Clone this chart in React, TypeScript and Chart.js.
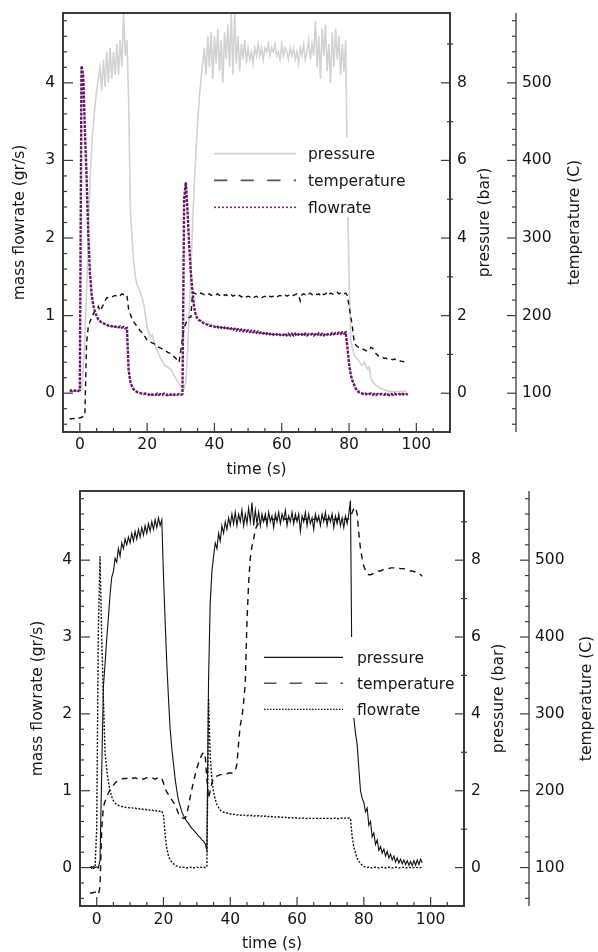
import React, { useEffect, useRef } from "react";
import { Chart, registerables } from "chart.js";
Chart.register(...registerables);

// ---------- data ----------
const time: number[] = [
  -3, -2.5, -2, -1.5, -1, -0.5,
  0, 0.5, 1, 1.5, 2, 2.5, 3, 3.5, 4, 4.5, 5, 5.5, 6, 6.5, 7, 7.5, 8, 8.5, 9, 9.5,
  10, 10.5, 11, 11.5, 12, 12.5, 13, 13.5, 14, 14.5, 15, 15.5, 16, 16.5, 17, 17.5, 18, 18.5, 19, 19.5,
  20, 20.5, 21, 21.5, 22, 22.5, 23, 23.5, 24, 24.5, 25, 25.5, 26, 26.5, 27, 27.5, 28, 28.5, 29, 29.5,
  30, 30.5, 31, 31.5, 32, 32.5, 33, 33.5, 34, 34.5, 35, 35.5, 36, 36.5, 37, 37.5, 38, 38.5, 39, 39.5,
  40, 40.5, 41, 41.5, 42, 42.5, 43, 43.5, 44, 44.5, 45, 45.5, 46, 46.5, 47, 47.5, 48, 48.5, 49, 49.5,
  50, 50.5, 51, 51.5, 52, 52.5, 53, 53.5, 54, 54.5, 55, 55.5, 56, 56.5, 57, 57.5, 58, 58.5, 59, 59.5,
  60, 60.5, 61, 61.5, 62, 62.5, 63, 63.5, 64, 64.5, 65, 65.5, 66, 66.5, 67, 67.5, 68, 68.5, 69, 69.5,
  70, 70.5, 71, 71.5, 72, 72.5, 73, 73.5, 74, 74.5, 75, 75.5, 76, 76.5, 77, 77.5, 78, 78.5, 79, 79.5,
  80, 80.5, 81, 81.5, 82, 82.5, 83, 83.5, 84, 84.5, 85, 85.5, 86, 86.5, 87, 87.5, 88, 88.5, 89, 89.5,
  90, 90.5, 91, 91.5, 92, 92.5, 93, 93.5, 94, 94.5, 95, 95.5, 96, 96.5, 97, 97.5,
];

// top panel
const topPressure: (number | null)[] = [
  0.05, 0.04, 0.05, 0.04, 0.05, 0.04,
  0.05, 0.1, 0.6, 1.4, 2.6, 4.0, 5.4, 6.3, 6.9, 7.4, 7.8, 8.1, 8.4, 7.8, 8.6, 7.9, 8.8, 8.0, 8.9, 8.1,
  8.8, 8.2, 9.0, 8.2, 9.1, 8.4, 9.8, 8.7, 9.1, 7.6, 4.8, 4.0, 3.4, 3.0, 2.8, 2.7, 2.6, 2.45, 2.3, 2.0,
  1.7, 1.55, 1.45, 1.5, 1.35, 1.2, 1.1, 1.0, 0.9, 0.82, 0.75, 0.7, 0.68, 0.65, 0.62, 0.55, 0.45, 0.38, 0.3, 0.24,
  0.18, 0.14, 0.12, 0.3, 1.0, 2.0, 3.2, 4.3, 5.4, 6.2, 7.0, 7.6, 8.1, 8.5, 8.9, 8.2, 9.2, 8.4, 9.3, 8.1,
  9.2, 8.5, 9.4, 8.3, 9.1, 8.0, 9.3, 8.6, 9.5, 8.4, 9.8, 8.2, 9.8, 8.5, 9.2, 8.3, 9.0, 8.6, 9.1, 8.5,
  8.9, 8.6, 8.8, 8.5, 8.9, 8.7, 9.0, 8.7, 8.9, 8.6, 8.9, 8.8, 9.0, 8.7, 8.9, 8.8, 9.0, 8.7, 8.8, 8.6,
  9.0, 8.7, 8.9, 8.8, 8.6, 8.9, 8.7, 8.9, 8.6, 8.8, 8.5, 8.9, 8.7, 9.0, 8.6, 8.8, 9.1, 8.6, 9.0, 8.7,
  9.6, 8.4, 9.2, 8.1, 9.4, 8.7, 9.5, 8.3, 9.0, 8.0, 9.3, 8.4, 9.4, 8.6, 9.2, 8.2, 9.0, 8.3, 9.1, 5.5,
  3.0, 1.4, 1.15, 1.0, 0.92, 0.88, 0.82, 0.75, 0.72, 0.8, 0.7, 0.62, 0.68, 0.4, 0.3, 0.25, 0.2, 0.18, 0.14, 0.12,
  0.1, 0.08, 0.07, 0.06, 0.05, 0.05, 0.04, 0.05, 0.04, 0.04, 0.05, 0.04, 0.04, 0.05, 0.04, null,
];
const topTemperature: (number | null)[] = [
  67, 67, 67.5, 67, 68, 68,
  68, 69, 70, 72, 165, 185, 192, 198, 202, 206, 208, 212, 206, 210, 214, 219, 223, 223, 224, 224,
  225, 226, 225, 227, 226, 228, 227, 228, 226, 208, 202, 196, 192, 189, 186, 183, 180, 178, 175, 172,
  168, 167, 166, 165, 164, 162, 160, 159, 158, 157, 156, 155, 153, 152, 151, 150, 147, 145, 142, 140,
  155, 170, 185, 190, 195, 198, 198, 230, 229, 228, 229, 228, 229, 228, 227, 228, 227, 228, 226, 227,
  228, 227, 228, 226, 227, 228, 226, 227, 225, 226, 227, 225, 226, 227, 225, 226, 224, 225, 226, 224,
  225, 224, 225, 223, 224, 225, 223, 224, 223, 224, 225, 223, 224, 225, 224, 225, 226, 224, 225, 226,
  225, 226, 227, 225, 226, 227, 228, 226, 227, 228, 226, 219, 227, 228, 227, 229, 228, 229, 227, 228,
  229, 227, 228, 226, 229, 227, 228, 230, 227, 229, 228, 227, 229, 230, 228, 229, 227, 228, 229, 226,
  212, 200, 185, 167, 162, 160, 159, 158, 157, 156, 155, 154, 156, 159, 158, 155, 151, 149, 147, 146,
  146, 145, 145, 144, 144, 144, 143, 144, 143, 142, 142, 141, 141, 140, 139, null,
];
const topFlowrate: (number | null)[] = [
  0.04, 0.03, 0.04, 0.03, 0.04, 0.03,
  0.04, 4.22, 4.1, 3.4, 2.8, 2.07, 1.55, 1.28, 1.13, 1.05, 0.99, 0.95, 0.93, 0.91, 0.9, 0.89, 0.885, 0.87, 0.875, 0.86,
  0.87, 0.855, 0.865, 0.85, 0.86, 0.845, 0.855, 0.835, 0.84, 0.3, 0.15, 0.09, 0.05, 0.03, 0.015, 0.005, 0.0, -0.005, -0.01, -0.005,
  -0.01, -0.02, -0.005, -0.02, -0.01, -0.02, -0.005, -0.02, -0.01, -0.02, -0.005, -0.015, -0.025, -0.01, -0.02, -0.005, -0.02, -0.01, -0.02, -0.01,
  -0.02, -0.01, 2.5, 2.72, 2.35, 1.9, 1.55, 1.3, 1.1, 1.0, 0.96, 0.94, 0.93, 0.91, 0.9, 0.89, 0.885, 0.87, 0.87, 0.86,
  0.86, 0.84, 0.855, 0.835, 0.85, 0.83, 0.845, 0.825, 0.84, 0.82, 0.835, 0.815, 0.83, 0.81, 0.825, 0.805, 0.82, 0.8, 0.815, 0.795,
  0.81, 0.79, 0.805, 0.785, 0.8, 0.78, 0.795, 0.775, 0.79, 0.77, 0.785, 0.765, 0.78, 0.76, 0.775, 0.755, 0.77, 0.755, 0.77, 0.75,
  0.765, 0.75, 0.77, 0.745, 0.765, 0.745, 0.765, 0.745, 0.765, 0.74, 0.76, 0.745, 0.76, 0.74, 0.765, 0.745, 0.76, 0.75, 0.765, 0.745,
  0.76, 0.745, 0.77, 0.75, 0.765, 0.745, 0.77, 0.755, 0.765, 0.755, 0.775, 0.76, 0.775, 0.765, 0.78, 0.765, 0.785, 0.77, 0.785, 0.6,
  0.38, 0.24, 0.16, 0.11, 0.06, 0.03, 0.01, 0.0, -0.005, -0.015, -0.005, -0.02, -0.01, -0.005, -0.02, -0.01, -0.025, -0.01, -0.02, -0.01,
  -0.01, -0.02, -0.005, -0.015, -0.025, -0.01, -0.02, -0.005, -0.015, -0.02, -0.01, -0.025, -0.01, -0.02, -0.01, -0.02,
];

// bottom panel
const bottomPressure: (number | null)[] = [
  null, null, 0.02, -0.02, 0.03, 0.0,
  0.02, -0.01, 0.2, 2.5, 4.7, 5.3, 5.95, 6.5, 7.1, 7.55, 7.7, 8.05, 7.95, 8.3, 8.1, 8.45, 8.3, 8.55, 8.4, 8.6,
  8.45, 8.7, 8.5, 8.75, 8.55, 8.8, 8.6, 8.85, 8.65, 8.9, 8.7, 8.95, 8.75, 9.0, 8.8, 9.05, 8.85, 9.1, 8.9, 9.05,
  7.6, 6.4, 5.3, 4.4, 3.6, 3.1, 2.7, 2.3, 2.0, 1.75, 1.6, 1.45, 1.35, 1.27, 1.2, 1.15, 1.08, 1.02, 0.98, 0.92,
  0.88, 0.82, 0.78, 0.72, 0.68, 0.62, 0.45, 4.9, 6.9, 7.7, 8.1, 8.45, 8.3, 8.7, 8.5, 8.9, 8.7, 9.0, 8.8, 9.1,
  8.9, 9.2, 8.95, 9.25, 8.9, 9.2, 9.0, 9.3, 8.9, 9.2, 8.95, 9.35, 9.0, 9.5, 8.9, 9.3, 8.95, 9.25, 8.9, 9.2,
  9.0, 9.2, 8.9, 9.25, 9.0, 9.15, 8.85, 9.2, 9.0, 9.25, 8.95, 9.2, 9.05, 9.3, 8.9, 9.15, 9.0, 9.25, 8.95, 9.2,
  9.0, 9.2, 8.75, 9.15, 9.0, 9.25, 8.9, 9.2, 8.95, 9.1, 8.8, 9.2, 9.0, 9.15, 8.9, 9.2, 9.0, 9.25, 8.9, 9.15,
  9.0, 9.2, 8.85, 9.15, 8.95, 9.2, 8.9, 9.1, 8.85, 9.15, 8.95, 9.2, 9.55, 4.4, 3.9, 3.5, 3.2, 2.6, 2.0, 1.8,
  1.7, 1.45, 1.55, 1.1, 1.2, 0.8, 0.9, 0.6, 0.72, 0.45, 0.55, 0.38, 0.48, 0.3, 0.42, 0.25, 0.35, 0.2, 0.3, 0.15,
  0.25, 0.12, 0.22, 0.1, 0.2, 0.08, 0.18, 0.06, 0.16, 0.05, 0.18, 0.06, 0.2, 0.08, 0.22, 0.12,
];
const bottomTemperature: (number | null)[] = [
  null, null, 67, 67, 67.5, 68,
  68, 65, 75, 150, 179, 186, 192, 197, 201, 204, 207, 210, 212, 213, 214, 215, 216, 216, 216, 217,
  216, 217, 216, 217, 216, 216, 217, 216, 215, 216, 217, 216, 216, 217, 216, 215, 216, 217, 216, 216,
  210, 203, 198, 195, 191, 188, 185, 181, 176, 170, 166, 165, 164, 164, 170, 180, 192, 202, 212, 221,
  229, 236, 242, 247, 250, 245, 215, 190, 200, 210, 216, 218, 219, 220, 221, 221, 222, 222, 222, 223,
  223, 223, 224, 226, 235, 262, 285, 296, 315, 340, 420, 470, 503, 518, 527, 540, 545, 548, 550, 552,
  553, 553, 554, 553, 554, 553, 553, 554, 553, 554, 553, 553, 554, 553, 554, 553, 553, 554, 553, 554,
  553, 554, 553, 553, 554, 553, 554, 553, 553, 554, 553, 554, 553, 553, 554, 553, 554, 553, 553, 554,
  553, 554, 553, 553, 554, 553, 553, 554, 553, 554, 553, 554, 556, 562, 567, 569, 560, 535, 515, 502,
  492, 487, 483, 481, 481, 482, 483, 484, 485, 486, 486, 487, 488, 488, 489, 489, 490, 490, 490, 490,
  490, 490, 489, 489, 489, 488, 488, 487, 486, 486, 485, 485, 484, 483, 481, 479,
];
const bottomFlowrate: (number | null)[] = [
  null, null, 0.0, 0.01, -0.01, 0.0,
  0.5, 3.1, 4.05, 3.0, 2.2, 1.5, 1.28, 1.12, 1.0, 0.92, 0.87, 0.84, 0.82, 0.81, 0.8, 0.795, 0.79, 0.785, 0.78, 0.78,
  0.775, 0.78, 0.77, 0.775, 0.765, 0.77, 0.76, 0.765, 0.755, 0.76, 0.75, 0.755, 0.745, 0.75, 0.74, 0.745, 0.735, 0.74, 0.73, 0.735,
  0.68, 0.42, 0.25, 0.15, 0.1, 0.07, 0.05, 0.03, 0.02, 0.01, 0.005, 0.0, 0.005, 0.0, -0.005, 0.0, 0.005, 0.0, -0.005, 0.0,
  0.005, 0.0, 0.005, 0.0, 0.005, 0.0, 0.01, 2.2, 1.45, 1.15, 0.98, 0.89, 0.82, 0.78, 0.75, 0.73, 0.72, 0.71, 0.71, 0.7,
  0.7, 0.69, 0.695, 0.69, 0.685, 0.69, 0.68, 0.685, 0.68, 0.685, 0.675, 0.68, 0.675, 0.68, 0.67, 0.675, 0.67, 0.675, 0.665, 0.67,
  0.665, 0.67, 0.66, 0.665, 0.66, 0.665, 0.655, 0.66, 0.655, 0.66, 0.65, 0.655, 0.65, 0.655, 0.645, 0.65, 0.645, 0.65, 0.645, 0.65,
  0.645, 0.64, 0.645, 0.64, 0.645, 0.635, 0.64, 0.645, 0.64, 0.635, 0.64, 0.645, 0.64, 0.635, 0.64, 0.645, 0.64, 0.635, 0.64, 0.645,
  0.64, 0.635, 0.64, 0.645, 0.64, 0.635, 0.64, 0.645, 0.64, 0.645, 0.64, 0.645, 0.64, 0.4, 0.27, 0.19, 0.12, 0.08, 0.06, 0.03,
  0.015, 0.005, 0.0, 0.005, 0.0, -0.005, 0.0, 0.005, 0.0, -0.005, 0.0, 0.005, 0.0, -0.005, 0.0, 0.005, 0.0, -0.005, 0.0, 0.005,
  0.0, -0.005, 0.0, 0.005, 0.0, -0.005, 0.0, 0.005, 0.0, -0.005, 0.0, 0.005, 0.0, -0.005, 0.0, 0.005,
];

// ticks
const xTicks = [0, 20, 40, 60, 80, 100];
const xMinorTicks = [5, 10, 15, 25, 30, 35, 45, 50, 55, 65, 70, 75, 85, 90, 95, 105];
const flowTicks = [0, 1, 2, 3, 4];
const flowMinorTicks = [-0.4, -0.2, 0.2, 0.4, 0.6, 0.8, 1.2, 1.4, 1.6, 1.8, 2.2, 2.4, 2.6, 2.8, 3.2, 3.4, 3.6, 3.8, 4.2, 4.4, 4.6, 4.8];
const pressureTicks = [0, 2, 4, 6, 8];
const pressureMinorTicks = [1, 3, 5, 7, 9];
const tempTicks = [100, 200, 300, 400, 500];
const tempMinorTicks = [60, 80, 120, 140, 160, 180, 220, 240, 260, 280, 320, 340, 360, 380, 420, 440, 460, 480, 520, 540, 560, 580];

const seriesLabels = ["pressure", "temperature", "flowrate"];
const xTitle = "time (s)";
const flowTitle = "mass flowrate (gr/s)";
const pressureTitle = "pressure (bar)";
const tempTitle = "temperature (C)";

// ---------- styling ----------
const FAMILY = "'DejaVu Sans', 'Liberation Sans', sans-serif";
const FS = 15.5;
const TEXT = "#151515";
const AXIS = "#3a3a3a";

type LegendItem = { color: string; width: number; dash: number[] };
type PanelCfg = {
  top: number;
  height: number;
  padTop: number;
  leftW: number;
  xH: number;
  presW: number;
  tempW: number;
  xPad: number;
  leftTitleX: number;
  presTitleX: number;
  tempTitleX: number;
  xTitleY: number;
  pressure: (number | null)[];
  temperature: (number | null)[];
  flowrate: (number | null)[];
  pStyle: LegendItem;
  tStyle: LegendItem;
  fStyle: LegendItem;
  legend: { box: number[]; rows: number[]; x0: number; x1: number; textX: number; items: LegendItem[] };
};

const topCfg: PanelCfg = {
  top: 0, height: 480, padTop: 13, leftW: 63, xH: 48, presW: 66, tempW: 82, xPad: 4,
  leftTitleX: 20, presTitleX: 485, tempTitleX: 574.5, xTitleY: 470,
  pressure: topPressure, temperature: topTemperature, flowrate: topFlowrate,
  pStyle: { color: "#d2d2d2", width: 1.6, dash: [] },
  tStyle: { color: "#111111", width: 1.4, dash: [5, 4] },
  fStyle: { color: "#661866", width: 2.4, dash: [3, 1.2] },
  legend: {
    box: [205, 137, 173, 80], rows: [153.7, 180.3, 207.3], x0: 214, x1: 296, textX: 308,
    items: [
      { color: "#cfcfcf", width: 1.8, dash: [] },
      { color: "#555555", width: 1.8, dash: [13.3, 13.3] },
      { color: "#7a2a7a", width: 1.6, dash: [2, 2] },
    ],
  },
};

const bottomCfg: PanelCfg = {
  top: 480, height: 472, padTop: 11, leftW: 80, xH: 46, presW: 65, tempW: 69, xPad: 5,
  leftTitleX: 38.3, presTitleX: 499.2, tempTitleX: 587.3, xTitleY: 464,
  pressure: bottomPressure, temperature: bottomTemperature, flowrate: bottomFlowrate,
  pStyle: { color: "#111111", width: 1.1, dash: [] },
  tStyle: { color: "#111111", width: 1.4, dash: [6, 5] },
  fStyle: { color: "#111111", width: 1.4, dash: [2, 1.6] },
  legend: {
    box: [256, 157, 206, 81], rows: [177.3, 203.3, 229.3], x0: 264, x1: 343, textX: 357,
    items: [
      { color: "#111111", width: 1.2, dash: [] },
      { color: "#555555", width: 1.5, dash: [12.5, 13] },
      { color: "#111111", width: 1.2, dash: [1.5, 1.5] },
    ],
  },
};

function makeDecor(cfg: PanelCfg) {
  return {
    id: "decor",
    afterDatasetsDraw(chart: any) {
      const ctx = chart.ctx as CanvasRenderingContext2D;
      const lg = cfg.legend;
      ctx.save();
      ctx.fillStyle = "#ffffff";
      ctx.fillRect(lg.box[0], lg.box[1], lg.box[2], lg.box[3]);
      const labels = chart.data.datasets.map((d: any) => d.label);
      lg.items.forEach((it, i) => {
        const y = lg.rows[i];
        ctx.beginPath();
        ctx.setLineDash(it.dash);
        ctx.strokeStyle = it.color;
        ctx.lineWidth = it.width;
        ctx.moveTo(lg.x0, y);
        ctx.lineTo(lg.x1, y);
        ctx.stroke();
        ctx.setLineDash([]);
        ctx.fillStyle = TEXT;
        ctx.font = `${FS}px ${FAMILY}`;
        ctx.textAlign = "left";
        ctx.textBaseline = "alphabetic";
        ctx.fillText(labels[i], lg.textX, y + 5.5);
      });
      ctx.restore();
    },
    afterDraw(chart: any) {
      const ctx = chart.ctx as CanvasRenderingContext2D;
      const ca = chart.chartArea;
      const sc = chart.scales;
      const line = (x1: number, y1: number, x2: number, y2: number) => {
        ctx.beginPath();
        ctx.moveTo(x1, y1);
        ctx.lineTo(x2, y2);
        ctx.stroke();
      };
      ctx.save();
      ctx.setLineDash([]);
      ctx.strokeStyle = AXIS;
      ctx.lineWidth = 1.2;
      xTicks.forEach((v) => { const p = sc.x.getPixelForValue(v); line(p, ca.bottom, p, ca.bottom - 9); });
      xMinorTicks.forEach((v) => { const p = sc.x.getPixelForValue(v); line(p, ca.bottom, p, ca.bottom - 4); });
      flowTicks.forEach((v) => { const p = sc.y.getPixelForValue(v); line(ca.left, p, ca.left + 10, p); });
      flowMinorTicks.forEach((v) => { const p = sc.y.getPixelForValue(v); line(ca.left, p, ca.left + 4, p); });
      pressureTicks.forEach((v) => { const p = sc.yP.getPixelForValue(v); line(ca.right, p, ca.right - 9, p); });
      pressureMinorTicks.forEach((v) => { const p = sc.yP.getPixelForValue(v); line(ca.right + 3, p, ca.right - 3, p); });
      const tx = sc.yT.left;
      ctx.lineWidth = 1.3;
      line(tx, ca.top, tx, ca.bottom);
      ctx.lineWidth = 1.2;
      tempTicks.forEach((v) => { const p = sc.yT.getPixelForValue(v); line(tx - 9, p, tx, p); });
      tempMinorTicks.forEach((v) => { const p = sc.yT.getPixelForValue(v); line(tx - 4, p, tx, p); });
      ctx.lineWidth = 2;
      ctx.strokeRect(ca.left, ca.top, ca.right - ca.left, ca.bottom - ca.top);

      ctx.fillStyle = TEXT;
      ctx.font = `${FS}px ${FAMILY}`;
      ctx.textAlign = "center";
      ctx.textBaseline = "middle";
      const midY = (ca.top + ca.bottom) / 2;
      const rot = (x: number, text: string) => {
        ctx.save();
        ctx.translate(x, midY);
        ctx.rotate(-Math.PI / 2);
        ctx.fillText(text, 0, 0);
        ctx.restore();
      };
      rot(cfg.leftTitleX, flowTitle);
      rot(cfg.presTitleX, pressureTitle);
      rot(cfg.tempTitleX, tempTitle);
      ctx.fillText(xTitle, (ca.left + ca.right) / 2, cfg.xTitleY);
      ctx.restore();
    },
  };
}

const tickFont = { family: FAMILY, size: FS };
const fixTicks = (vals: number[]) => (s: any) => { s.ticks = vals.map((v) => ({ value: v })); };
const noGrid = { display: false, drawTicks: false };
const noBorder = { display: false };

function Panel({ cfg }: { cfg: PanelCfg }) {
  const ref = useRef<HTMLCanvasElement | null>(null);
  useEffect(() => {
    const canvas = ref.current;
    if (!canvas) return;
    const pts = (arr: (number | null)[]) => time.map((t, i) => ({ x: t, y: arr[i] }));
    const ds = (label: string, arr: (number | null)[], axis: string, st: LegendItem, order: number) => ({
      label,
      data: pts(arr),
      yAxisID: axis,
      borderColor: st.color,
      borderWidth: st.width,
      borderDash: st.dash,
      pointRadius: 0,
      tension: 0,
      fill: false,
      spanGaps: false,
      order,
    });
    const chart = new Chart(canvas, {
      type: "line",
      data: {
        datasets: [
          ds(seriesLabels[0], cfg.pressure, "yP", cfg.pStyle, 3),
          ds(seriesLabels[1], cfg.temperature, "yT", cfg.tStyle, 2),
          ds(seriesLabels[2], cfg.flowrate, "y", cfg.fStyle, 1),
        ] as any,
      },
      options: {
        animation: false,
        responsive: false,
        devicePixelRatio: 1,
        layout: { padding: { top: cfg.padTop, left: 0, right: 0, bottom: 0 } },
        plugins: { legend: { display: false }, tooltip: { enabled: false } },
        scales: {
          x: {
            type: "linear", position: "bottom", min: -5, max: 110,
            afterBuildTicks: fixTicks(xTicks),
            afterFit: (s: any) => { s.height = cfg.xH; s.paddingLeft = 0; s.paddingRight = 0; },
            grid: noGrid, border: noBorder,
            ticks: { font: tickFont, color: TEXT, padding: cfg.xPad, autoSkip: false, maxRotation: 0, callback: (v: any) => String(v) },
          },
          y: {
            type: "linear", position: "left", min: -0.5, max: 4.9,
            afterBuildTicks: fixTicks(flowTicks),
            afterFit: (s: any) => { s.width = cfg.leftW; s.paddingTop = 0; s.paddingBottom = 0; },
            grid: noGrid, border: noBorder,
            ticks: { font: tickFont, color: TEXT, padding: 8, autoSkip: false, callback: (v: any) => String(v) },
          },
          yP: {
            type: "linear", axis: "y", position: "right", weight: 0, min: -1, max: 9.8,
            afterBuildTicks: fixTicks(pressureTicks),
            afterFit: (s: any) => { s.width = cfg.presW; s.paddingTop = 0; s.paddingBottom = 0; },
            grid: noGrid, border: noBorder,
            ticks: { font: tickFont, color: TEXT, padding: 7, autoSkip: false, callback: (v: any) => String(v) },
          },
          yT: {
            type: "linear", axis: "y", position: "right", weight: 1, min: 50, max: 590,
            afterBuildTicks: fixTicks(tempTicks),
            afterFit: (s: any) => { s.width = cfg.tempW; s.paddingTop = 0; s.paddingBottom = 0; },
            grid: noGrid, border: noBorder,
            ticks: { font: tickFont, color: TEXT, padding: 6, autoSkip: false, callback: (v: any) => String(v) },
          },
        } as any,
      },
      plugins: [makeDecor(cfg) as any],
    });
    return () => chart.destroy();
  }, [cfg]);
  return (
    <canvas
      ref={ref}
      width={598}
      height={cfg.height}
      style={{ position: "absolute", left: 0, top: cfg.top, width: 598, height: cfg.height }}
    />
  );
}

export default function App() {
  return (
    <div style={{ position: "absolute", left: 0, top: 0, width: 598, height: 952, background: "#fff" }}>
      <Panel cfg={topCfg} />
      <Panel cfg={bottomCfg} />
    </div>
  );
}
